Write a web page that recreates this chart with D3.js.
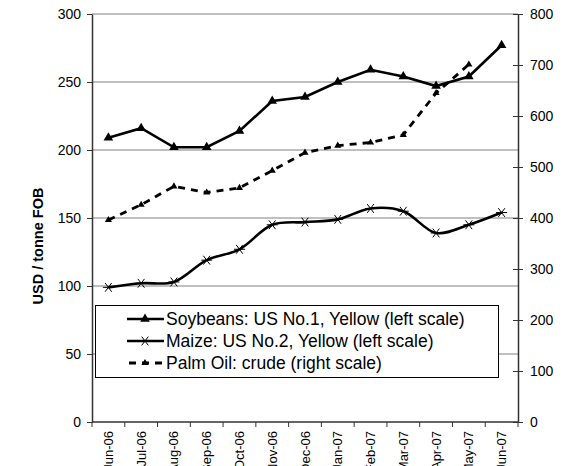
<!DOCTYPE html>
<html>
<head>
<meta charset="utf-8">
<script src="https://cdn.jsdelivr.net/npm/d3@7"></script>
<style>
  body { margin: 0; background: #fff; }
  svg { display: block; font-family: "Liberation Sans", Arial, sans-serif; }
</style>
</head>
<body>
<div id="chart"></div>
<script>
// months on the x axis
var months = ["Jun-06", "Jul-06", "Aug-06", "Sep-06", "Oct-06", "Nov-06", "Dec-06",
              "Jan-07", "Feb-07", "Mar-07", "Apr-07", "May-07", "Jun-07"];
// left scale series (USD / tonne)
var soybeans = [209, 216, 202, 202, 214, 236, 239, 250, 259, 254, 247, 254, 277];
var maize    = [99, 102, 103, 119, 127, 145, 147, 149, 157, 155, 139, 145, 154];
// right scale series, no value for the last month
var palmOil  = [396, 426, 462, 450, 459, 493, 528, 542, 548, 563, 645, 701, null];
var leftTicks  = [0, 50, 100, 150, 200, 250, 300];
var rightTicks = [0, 100, 200, 300, 400, 500, 600, 700, 800];
var legendLabels = ["Soybeans: US No.1, Yellow (left scale)",
                    "Maize: US No.2, Yellow (left scale)",
                    "Palm Oil: crude (right scale)"];

var w = 565, h = 466;
var pLeft = 92, pRight = 518, pTop = 14, pBottom = 422;

var svg = d3.select("#chart").append("svg")
  .attr("width", w).attr("height", h);

var x = d3.scaleBand().domain(months).range([pLeft, pRight]);
var yL = d3.scaleLinear().domain([0, 300]).range([pBottom, pTop]);
var yR = d3.scaleLinear().domain([0, 800]).range([pBottom, pTop]);
var cx = function(m) { return x(m) + x.bandwidth() / 2; };

// gridlines off the left scale
svg.append("g").selectAll("line")
  .data(leftTicks.filter(function(d) { return d > 0; }))
  .enter().append("line")
  .attr("x1", pLeft).attr("x2", pRight)
  .attr("y1", function(d) { return yL(d); })
  .attr("y2", function(d) { return yL(d); })
  .style("stroke", "#808080").style("stroke-width", 1);

// left axis
var gl = svg.append("g")
  .attr("transform", "translate(" + pLeft + ",0)")
  .call(d3.axisLeft(yL).tickValues(leftTicks).tickSize(5).tickPadding(6).tickSizeOuter(0));
gl.select(".domain").style("stroke", "#333").style("stroke-width", 1.5);
gl.selectAll(".tick line").style("stroke", "#333");
gl.selectAll("text").style("font-size", "14px").style("fill", "#000");

// right axis, ticks cross the line
var gr = svg.append("g")
  .attr("transform", "translate(" + pRight + ",0)")
  .call(d3.axisRight(yR).tickValues(rightTicks).tickSize(5).tickPadding(7).tickSizeOuter(0));
gr.select(".domain").style("stroke", "#333").style("stroke-width", 1.5);
gr.selectAll(".tick line").attr("x1", -5).style("stroke", "#333");
gr.selectAll("text").style("font-size", "14px").style("fill", "#000");

// bottom axis: ticks between months, labels turned on their side
svg.append("line")
  .attr("x1", pLeft).attr("x2", pRight).attr("y1", pBottom).attr("y2", pBottom)
  .style("stroke", "#333").style("stroke-width", 1.5);
svg.append("g").selectAll("line")
  .data(d3.range(months.length + 1))
  .enter().append("line")
  .attr("x1", function(i) { return pLeft + i * x.step(); })
  .attr("x2", function(i) { return pLeft + i * x.step(); })
  .attr("y1", pBottom).attr("y2", pBottom + 5)
  .style("stroke", "#333");
svg.append("g").selectAll("text")
  .data(months)
  .enter().append("text")
  .attr("transform", function(d) { return "translate(" + cx(d) + "," + (pBottom + 9) + ") rotate(-90)"; })
  .attr("dy", "0.35em")
  .attr("text-anchor", "end")
  .style("font-size", "13px")
  .text(function(d) { return d; });

// y title
svg.append("text")
  .attr("transform", "translate(43,246) rotate(-90)")
  .attr("text-anchor", "middle")
  .style("font-size", "14.5px").style("font-weight", "bold")
  .text("USD / tonne FOB");

// series
var soyLine = d3.line()
  .x(function(d, i) { return cx(months[i]); })
  .y(function(d) { return yL(d); });
var maizeLine = d3.line()
  .x(function(d, i) { return cx(months[i]); })
  .y(function(d) { return yL(d); })
  .curve(d3.curveCatmullRom.alpha(0.5));
var palmLine = d3.line()
  .defined(function(d) { return d != null; })
  .x(function(d, i) { return cx(months[i]); })
  .y(function(d) { return yR(d); });

svg.append("path").datum(palmOil)
  .attr("d", palmLine)
  .style("fill", "none").style("stroke", "#000")
  .style("stroke-width", 2.8).style("stroke-dasharray", "7,6");
svg.append("path").datum(maize)
  .attr("d", maizeLine)
  .style("fill", "none").style("stroke", "#000").style("stroke-width", 2.6);
svg.append("path").datum(soybeans)
  .attr("d", soyLine)
  .style("fill", "none").style("stroke", "#000").style("stroke-width", 2.6);

var tri = d3.symbol().type(d3.symbolTriangle).size(40);
var smallTri = d3.symbol().type(d3.symbolTriangle).size(22);

function star(g, px, py) {
  var r = 5.5;
  [[-r, 0, r, 0], [-r * 0.6, -r * 0.8, r * 0.6, r * 0.8], [-r * 0.6, r * 0.8, r * 0.6, -r * 0.8]]
    .forEach(function(s) {
      g.append("line")
        .attr("x1", px + s[0]).attr("y1", py + s[1])
        .attr("x2", px + s[2]).attr("y2", py + s[3])
        .style("stroke", "#000").style("stroke-width", 1);
    });
}

svg.append("g").selectAll("path")
  .data(soybeans).enter().append("path")
  .attr("d", tri)
  .attr("transform", function(d, i) { return "translate(" + cx(months[i]) + "," + yL(d) + ")"; })
  .style("fill", "#000");

svg.append("g").selectAll("path")
  .data(palmOil.filter(function(d) { return d != null; })).enter().append("path")
  .attr("d", smallTri)
  .attr("transform", function(d, i) { return "translate(" + cx(months[i]) + "," + yR(d) + ")"; })
  .style("fill", "#000");

var starG = svg.append("g");
maize.forEach(function(d, i) { star(starG, cx(months[i]), yL(d)); });

// legend
var lg = svg.append("g");
lg.append("rect")
  .attr("x", 95.5).attr("y", 305.5).attr("width", 403).attr("height", 72)
  .style("fill", "#fff").style("stroke", "#000").style("stroke-width", 1);
var rows = [319, 341, 363];
rows.forEach(function(ry, i) {
  var ln = lg.append("line")
    .attr("x1", 127).attr("x2", 164).attr("y1", ry).attr("y2", ry)
    .style("stroke", "#000").style("stroke-width", 2.6);
  if (i == 0) {
    lg.append("path").attr("d", tri).attr("transform", "translate(145," + ry + ")");
  } else if (i == 1) {
    star(lg, 145, ry);
  } else {
    ln.style("stroke-dasharray", "7,6").attr("x1", 129).attr("x2", 164).style("stroke-width", 2.8);
    lg.append("path").attr("d", smallTri).attr("transform", "translate(145," + ry + ")");
  }
  lg.append("text")
    .attr("x", 166).attr("y", ry).attr("dy", "0.35em")
    .style("font-size", "17.5px")
    .text(legendLabels[i]);
});
</script>
</body>
</html>
